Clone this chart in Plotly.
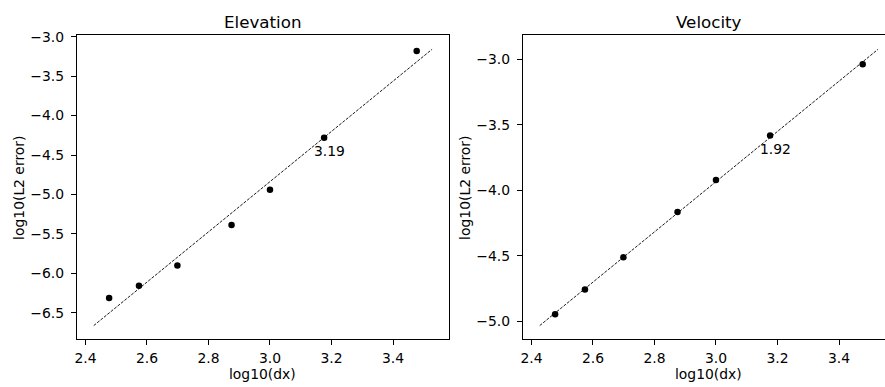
import numpy as np
import plotly.graph_objects as go

# ---- data ----
log_dx = [2.477, 2.574, 2.699, 2.875, 3.000, 3.176, 3.477]
elev_err = [-6.31, -6.157, -5.90, -5.387, -4.94, -4.282, -3.182]
vel_err = [-4.945, -4.756, -4.509, -4.165, -3.92, -3.581, -3.037]
panel_titles = ["Elevation", "Velocity"]
rate_labels = ["3.19", "1.92"]
x_label = "log10(dx)"
y_label = "log10(L2 error)"
elev_ticks = [-6.5, -6.0, -5.5, -5.0, -4.5, -4.0, -3.5, -3.0]
vel_ticks = [-5.0, -4.5, -4.0, -3.5, -3.0]
x_ticks = [2.4, 2.6, 2.8, 3.0, 3.2, 3.4]

FONT = "DejaVu Sans"
W, H = 885, 387

ax_top, ax_bot = 29, 338.5
left_ax = (75, 448)
right_ax = (522, 895)  # right axes is clipped by the figure edge


def fit_line(x, y):
    x = np.asarray(x)
    y = np.asarray(y)
    p = np.polyfit(x, y, 1)
    xl = np.array([x.min() - 0.05, x.max() + 0.05])
    return xl, np.polyval(p, xl)


def autorange(vals, m=0.05):
    lo, hi = float(min(vals)), float(max(vals))
    d = (hi - lo) * m
    return lo - d, hi + d


fig = go.Figure()

panels = [(elev_err, elev_ticks, left_ax, "x", "y"), (vel_err, vel_ticks, right_ax, "x2", "y2")]
for i, (yv, yt, (px0, px1), xa, ya) in enumerate(panels):
    xl, yl = fit_line(log_dx, yv)
    fig.add_trace(go.Scatter(x=xl, y=yl, mode="lines", xaxis=xa, yaxis=ya,
                             line=dict(color="black", width=0.9, dash="3px,1.4px"),
                             showlegend=False, hoverinfo="skip"))
    fig.add_trace(go.Scatter(x=log_dx, y=yv, mode="markers", xaxis=xa, yaxis=ya,
                             marker=dict(color="black", size=6.5),
                             showlegend=False))
    xr = autorange(list(xl) + log_dx)
    yr = autorange(list(yl) + yv)
    vis_px1 = min(px1, W)
    xr_vis = (xr[0], xr[0] + (xr[1] - xr[0]) * (vis_px1 - px0) / (px1 - px0))
    clipped = px1 > W
    axis_common = dict(showgrid=False, zeroline=False, showline=True, linecolor="black",
                       linewidth=1, ticks="outside", ticklen=5, tickwidth=1.1,
                       tickcolor="black", tickfont=dict(family=FONT, size=13.9, color="black"))
    xkey = "xaxis" if xa == "x" else "xaxis2"
    ykey = "yaxis" if ya == "y" else "yaxis2"
    fig.update_layout(**{
        xkey: dict(axis_common, domain=[px0 / W, vis_px1 / W], range=list(xr_vis),
                   tickvals=x_ticks, tickformat=".1f", mirror=True, anchor=ya,
                   ticklabelstandoff=1),
        ykey: dict(axis_common, domain=[(H - ax_bot) / H, (H - ax_top) / H], range=list(yr),
                   tickvals=yt, tickformat=".1f", mirror=not clipped, anchor=xa,
                   ticklabelstandoff=4),
    })
    cx = (px0 + px1) / 2 / W
    fig.add_annotation(text=panel_titles[i], xref="paper", yref="paper", x=cx, y=(H - 15) / H,
                       showarrow=False, xanchor="center", yanchor="middle",
                       font=dict(family=FONT, size=16.7, color="black"))
    fig.add_annotation(text=x_label, xref="paper", yref="paper", x=cx, y=(H - 374) / H,
                       showarrow=False, xanchor="center", yanchor="middle",
                       font=dict(family=FONT, size=13.9, color="black"))
    fig.add_annotation(text=y_label, xref="paper", yref="paper", x=(px0 - 57.5) / W,
                       y=(H - (ax_top + ax_bot) / 2) / H, textangle=-90,
                       showarrow=False, xanchor="center", yanchor="middle",
                       font=dict(family=FONT, size=13.9, color="black"))
    fig.add_annotation(text=rate_labels[i], xref=xa, yref=ya, x=log_dx[5], y=yv[5],
                       showarrow=False, xanchor="center", yanchor="middle",
                       xshift=5.5, yshift=-13.5,
                       font=dict(family=FONT, size=13.9, color="black"))

fig.update_layout(width=W, height=H, margin=dict(l=0, r=0, t=0, b=0),
                  paper_bgcolor="white", plot_bgcolor="white",
                  font=dict(family=FONT, color="black"))

fig.write_html("out.html")
